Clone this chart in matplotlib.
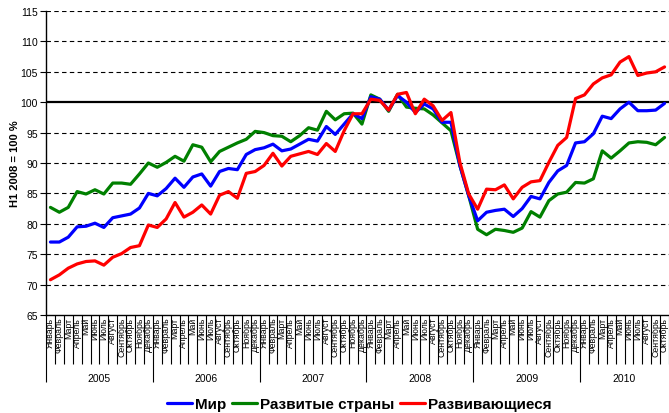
import matplotlib
matplotlib.use("Agg")
import matplotlib.pyplot as plt
import numpy as np

months = ["Январь", "Февраль", "Март", "Апрель", "Май", "Июнь", "Июль",
          "Август", "Сентябрь", "Октябрь", "Ноябрь", "Декабрь"]
years = ["2005", "2006", "2007", "2008", "2009", "2010"]

# Jan 2005 .. Oct 2010, H1 2008 = 100
world = [77.0, 77.0, 77.8, 79.5, 79.6, 80.1, 79.4, 81.0, 81.3, 81.6, 82.6, 85.0,
         84.6, 85.8, 87.5, 86.0, 87.7, 88.2, 86.2, 88.6, 89.1, 88.9, 91.4, 92.2,
         92.5, 93.1, 92.0, 92.3, 93.1, 93.9, 93.6, 96.0, 94.7, 96.4, 98.1, 97.3,
         100.9, 100.5, 98.7, 101.1, 100.0, 98.3, 99.7, 98.9, 96.7, 96.7, 89.6, 84.6,
         80.5, 81.9, 82.2, 82.4, 81.2, 82.5, 84.5, 84.1, 86.8, 88.7, 89.6, 93.3,
         93.5, 94.8, 97.7, 97.3, 98.9, 100.0, 98.6, 98.6, 98.7, 99.8]
developed = [82.7, 81.9, 82.7, 85.3, 84.9, 85.6, 84.9, 86.7, 86.7, 86.5, 88.2, 90.0,
             89.3, 90.1, 91.1, 90.3, 93.0, 92.6, 90.2, 91.9, 92.6, 93.3, 93.9, 95.2,
             95.0, 94.5, 94.4, 93.5, 94.5, 95.8, 95.4, 98.5, 97.1, 98.1, 98.2, 96.4,
             101.2, 100.5, 98.5, 101.3, 99.2, 99.0, 98.9, 97.9, 96.6, 95.3, 89.6, 84.6,
             79.1, 78.2, 79.1, 78.9, 78.6, 79.3, 82.0, 81.1, 83.8, 84.9, 85.2, 86.8,
             86.7, 87.4, 92.0, 90.8, 92.0, 93.3, 93.5, 93.4, 93.0, 94.2]
emerging = [70.8, 71.6, 72.7, 73.4, 73.8, 73.9, 73.2, 74.5, 75.1, 76.1, 76.4, 79.8,
            79.4, 80.8, 83.5, 81.1, 81.9, 83.1, 81.6, 84.7, 85.3, 84.2, 88.3, 88.6,
            89.6, 91.6, 89.5, 91.1, 91.5, 91.9, 91.4, 93.2, 91.9, 95.3, 98.1, 98.1,
            100.5, 100.3, 98.7, 101.3, 101.6, 98.1, 100.5, 99.4, 97.0, 98.3, 90.1, 84.9,
            82.4, 85.7, 85.6, 86.4, 84.1, 86.0, 86.9, 87.1, 90.1, 92.9, 94.2, 100.6,
            101.2, 103.0, 104.0, 104.5, 106.6, 107.5, 104.4, 104.8, 105.0, 105.8]

plt.rcParams["font.family"] = ["Liberation Sans", "DejaVu Sans"]

fig = plt.figure(figsize=(6.69, 4.14), dpi=100)
ax = fig.add_axes([46 / 669, 1 - 316 / 414, 1 - 46 / 669, 304 / 414])

n = len(world)
x = np.arange(n)

# grid: dashed every 5, solid base line at 100
for v in range(70, 116, 5):
    if v == 100:
        ax.axhline(v, color="black", lw=1.6, zorder=1)
    else:
        ax.axhline(v, color="black", lw=0.8, ls=(0, (4, 3)), zorder=1)

ax.plot(x, world, color="#0000FF", lw=2.3, label="Мир", zorder=3,
        solid_joinstyle="round", solid_capstyle="round")
ax.plot(x, developed, color="#008000", lw=2.3, label="Развитые страны", zorder=2,
        solid_joinstyle="round", solid_capstyle="round")
ax.plot(x, emerging, color="#FF0000", lw=2.3, label="Развивающиеся", zorder=4,
        solid_joinstyle="round", solid_capstyle="round")

ax.set_xlim(-0.5, n - 0.5)
ax.set_ylim(65, 115)
ax.set_yticks(range(65, 116, 5))
ax.tick_params(axis="y", length=4, width=0.8, labelsize=7.5, pad=2, colors="black")

for s in ["top", "right"]:
    ax.spines[s].set_visible(False)
ax.spines["left"].set_linewidth(1.0)
ax.spines["bottom"].set_linewidth(1.0)

# category separators: long ticks for years, shorter for months
ax.set_xticks(np.arange(0, n + 1, 12) - 0.5)
ax.set_xticks(np.arange(0, n + 1) - 0.5, minor=True)
ax.tick_params(axis="x", which="major", length=48, width=0.8, labelbottom=False)
ax.tick_params(axis="x", which="minor", length=35, width=0.8, labelbottom=False)

tr = ax.get_xaxis_transform()
for i in x:
    ax.text(i, -0.006, months[i % 12], transform=tr, rotation=90,
            ha="center", va="top", fontsize=6.3)
for k, yr in enumerate(years):
    start = 12 * k
    end = min(start + 12, n)
    ax.text((start + end - 1) / 2, -0.207, yr, transform=tr,
            ha="center", va="center", fontsize=7.5)

ax.set_ylabel("H1 2008 = 100 %", fontsize=8, fontweight="bold")
ax.yaxis.set_label_coords(-0.041, 0.5)

fig.legend(loc="center", bbox_to_anchor=(0.537, 0.022), ncol=3, frameon=False,
           prop={"weight": "bold", "size": 11}, handlelength=1.6,
           handletextpad=0.2, columnspacing=0.4)

fig.savefig("out.png", dpi=100)
